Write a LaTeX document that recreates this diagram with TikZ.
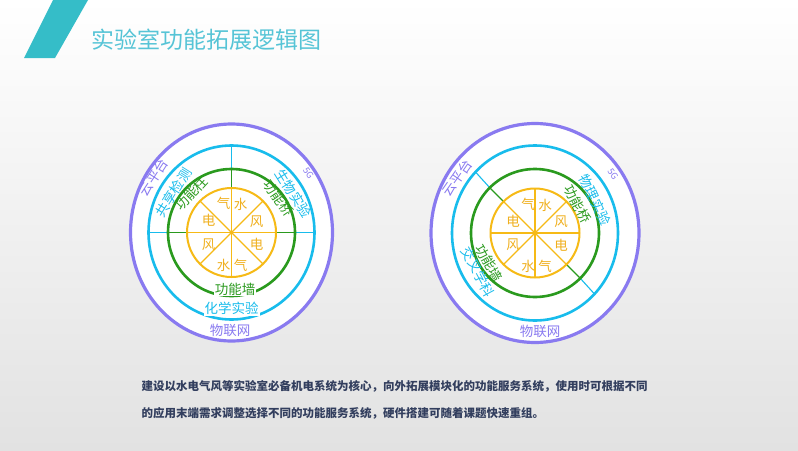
\documentclass[tikz,border=0pt]{standalone}
\usepackage{fontspec}
\newfontfamily\cjk{Noto Sans CJK SC}
\definecolor{slashc}{RGB}{53,189,200}
\definecolor{titlec}{RGB}{86,196,214}
\definecolor{purplec}{RGB}{137,122,240}
\definecolor{cyanc}{RGB}{24,188,236}
\definecolor{greenc}{RGB}{42,154,30}
\definecolor{yellowc}{RGB}{246,186,22}
\definecolor{ytext}{RGB}{240,176,30}
\definecolor{bodyc}{RGB}{50,62,94}
\definecolor{bgbot}{RGB}{226,226,226}
\begin{document}
\begin{tikzpicture}[x=1pt,y=-1pt,
  lbl/.style={font=\cjk\fontsize{13.5}{13.5}\selectfont, inner sep=0pt},
  ylbl/.style={lbl, text=ytext},
  plbl/.style={lbl, text=purplec},
  clbl/.style={lbl, text=cyanc},
  glbl/.style={lbl, text=greenc},
  onl/.style={fill=white, inner sep=1pt},
  small/.style={font=\cjk\fontsize{9}{9}\selectfont},
  pring/.style={draw=purplec, line width=3.2pt, fill=white},
  cring/.style={draw=cyanc, line width=2.6pt},
  gring/.style={draw=greenc, line width=2.6pt},
  yring/.style={draw=yellowc, line width=2pt},
  cline/.style={draw=cyanc, line width=1.1pt},
  gline/.style={draw=greenc, line width=1.1pt},
  yline/.style={draw=yellowc, line width=1.1pt},
  title/.style={font=\cjk\fontsize{23}{23}\selectfont, text=titlec, inner sep=0pt},
  body/.style={font=\cjk\bfseries\fontsize{11.5}{11.5}\selectfont, text=bodyc, inner sep=0pt}
]
\useasboundingbox (0,0) rectangle (798,450);
\shade[top color=white, bottom color=bgbot] (0,0) rectangle (798,450);
\fill[slashc] (53,0) -- (88,0) -- (55,58) -- (24,58) -- cycle;
\node[title, anchor=west] (title) at (91.5,39.5) {实验室功能拓展逻辑图};

% ---------- left diagram ----------
\begin{scope}[shift={(231.5,232.5)}]
  \path[pring] (0,0) ellipse [x radius=101, y radius=108.5];
  \draw[cline] (-83,0) -- (-63,0);
  \draw[cline] (63,0) -- (83,0);
  \draw[cline] (0,-87) -- (0,-63);
  \draw[gline] (-63,0) -- (-44,0);
  \draw[gline] (63,0) -- (44,0);
  \draw[gline] (0,-63) -- (0,-44);
  \path[cring] (0,0) ellipse [x radius=83, y radius=87];
  \path[gring] (0,0) circle (63.5);
  \foreach \a in {0,45,...,315} \draw[yline] (0,0) -- (\a:44.5);
  \path[yring] (0,0) circle (44.5);
  \fill[yellowc] (0,0) circle (1.8);
  \node[ylbl] (lq1) at (-8,-29) {气};
  \node[ylbl] (ls1) at (9,-28) {水};
  \node[ylbl] (ld1) at (-23,-12) {电};
  \node[ylbl] (lf1) at (25,-11) {风};
  \node[ylbl] (lf2) at (-23,12) {风};
  \node[ylbl] (ld2) at (25,12) {电};
  \node[ylbl] (ls2) at (-8,33) {水};
  \node[ylbl] (lq2) at (9,33) {气};
  \node[plbl, rotate=57] (lyun) at (-78,-55) {云平台};
  \node[clbl, rotate=58] (lgx) at (-58,-40) {共享检测};
  \node[glbl, rotate=47] (lzhu) at (-40,-39) {功能柱};
  \node[clbl, rotate=-58] (lsw) at (62,-39) {生物实验};
  \node[plbl, small, rotate=-55] (l5g) at (77,-59) {5G};
  \node[glbl, rotate=-55] (lqiao) at (47,-34) {功能桥};
  \node[glbl, onl] (lqiang) at (3.5,56.5) {功能墙};
  \node[clbl, onl] (lhx) at (0,76) {化学实验};
  \node[plbl] (lwl) at (-1.5,97.5) {物联网};
\end{scope}

% ---------- right diagram ----------
\begin{scope}[shift={(535,233)}]
  \path[pring] (0,0) ellipse [x radius=104, y radius=109.5];
  \draw[cline] (-59.5,-61) -- (-45,-45);
  \draw[cline] (59.5,61) -- (45,45);
  \draw[gline] (-45,-45) -- (-31.5,-31.5);
  \draw[gline] (45,45) -- (31.5,31.5);
  \path[cring] (0,0) ellipse [x radius=83, y radius=87.5];
  \path[gring] (0,0) circle (64);
  \foreach \a in {0,45,...,315} \draw[yline] (0,0) -- (\a:44.5);
  \path[yring] (0,0) circle (44.5);
  \fill[yellowc] (0,0) circle (1.8);
  \node[ylbl] (rq1) at (-7,-29) {气};
  \node[ylbl] (rs1) at (10,-28) {水};
  \node[ylbl] (rd1) at (-22,-12) {电};
  \node[ylbl] (rf1) at (26,-11) {风};
  \node[ylbl] (rf2) at (-22,12) {风};
  \node[ylbl] (rd2) at (26,12) {电};
  \node[ylbl] (rs2) at (-7,33) {水};
  \node[ylbl] (rq2) at (10,33) {气};
  \node[plbl, rotate=55] (ryun) at (-78,-55) {云平台};
  \node[plbl, small, rotate=-55] (r5g) at (78,-59) {5G};
  \node[clbl, rotate=-65] (rwl2) at (60,-33) {物理实验};
  \node[glbl, rotate=-62] (rqiao) at (42.5,-29) {功能桥};
  \node[glbl, rotate=-60] (rqiang) at (-46,30) {功能墙};
  \node[clbl, rotate=-62] (rjc) at (-57,39) {交叉学科};
  \node[plbl] (rwl) at (5,98.5) {物联网};
\end{scope}

\node[body, anchor=west] (p1) at (141.5,386.5) {建设以水电气风等实验室必备机电系统为核心，向外拓展模块化的功能服务系统，使用时可根据不同};
\node[body, anchor=west] (p2) at (141.5,413) {的应用末端需求调整选择不同的功能服务系统，硬件搭建可随着课题快速重组。};
\end{tikzpicture}
\end{document}
